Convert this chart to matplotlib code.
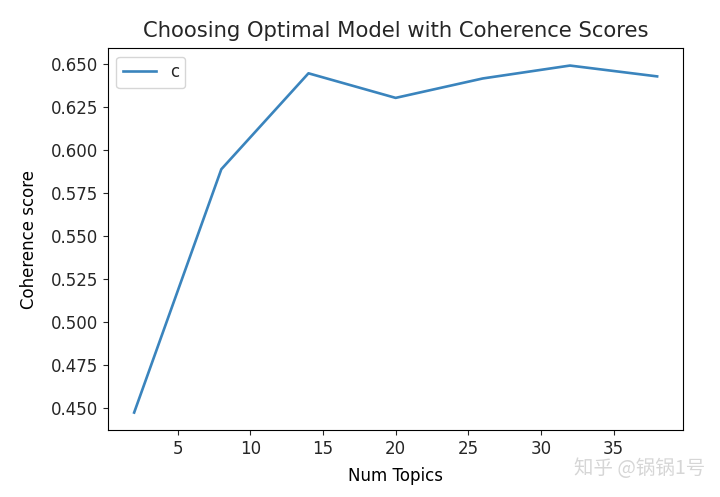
import numpy as np
import matplotlib.pyplot as plt

# number of topics vs coherence score
num_topics = [2, 8, 14, 20, 26, 32, 38]
coherence = [0.4475, 0.589, 0.6448, 0.6305, 0.6418, 0.6493, 0.6430]

plt.rcParams['font.family'] = ['DejaVu Sans', 'Noto Sans CJK SC']
plt.rcParams['text.color'] = '#262626'
plt.rcParams['xtick.color'] = '#262626'
plt.rcParams['ytick.color'] = '#262626'

fig = plt.figure(figsize=(7.2, 4.97), dpi=100)
ax = fig.add_axes([0.15, 0.135, 0.799, 0.768])

ax.plot(num_topics, coherence, color='#3a84bd', linewidth=1.9, label='c')
ax.set_xlabel('Num Topics', fontsize=12, labelpad=7)
ax.set_ylabel('Coherence score', fontsize=12, labelpad=9)
ax.set_title('Choosing Optimal Model with Coherence Scores', fontsize=15.2, pad=8)
ax.tick_params(labelsize=12)
ax.yaxis.set_major_formatter(plt.FormatStrFormatter('%.3f'))
ax.legend(loc='upper left', fontsize=12)

# watermark
fig.text(0.98, 0.058, '知乎 @锅锅1号', ha='right', va='center', fontsize=14,
         color='#cccccc', alpha=0.8, family=['Noto Sans CJK SC', 'DejaVu Sans'])

fig.savefig('out.png', dpi=100)
